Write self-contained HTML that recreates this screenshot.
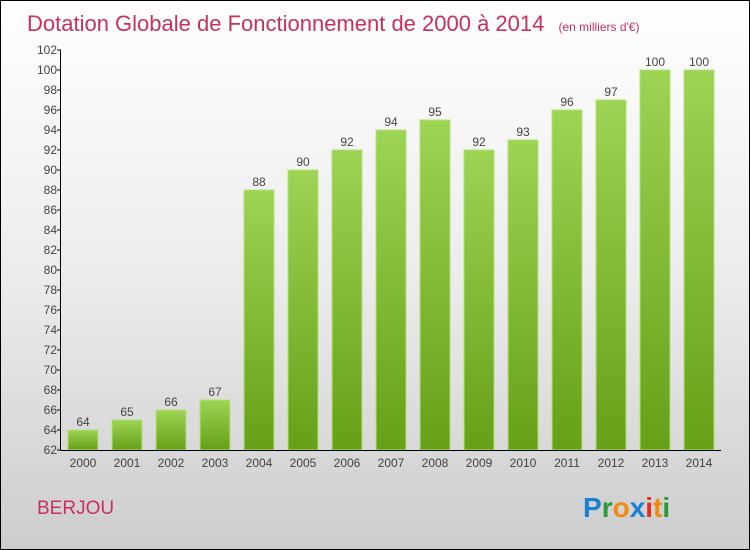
<!DOCTYPE html>
<html><head><meta charset="utf-8"><style>
body{margin:0}
#c{width:748px;height:548px;border:1px solid #000;background:linear-gradient(#fff,#ececec 50%,#cdcdcd);position:relative;font-family:"Liberation Sans",sans-serif;overflow:hidden}
</style></head><body>
<div id="c">
<svg id="s" width="748" height="548" xmlns="http://www.w3.org/2000/svg">
<defs><linearGradient id="g" x1="0" y1="0" x2="0" y2="1"><stop offset="0" stop-color="#9dd454"/><stop offset="1" stop-color="#66a016"/></linearGradient></defs>
<text x="26" y="30" font-size="22" fill="#c8305f">Dotation Globale de Fonctionnement de 2000 à 2014 <tspan font-size="12" dx="8">(en milliers d'€)</tspan></text>
<text x="36" y="513" font-size="19" fill="#c8305f">BERJOU</text>
<g font-size="28" font-weight="bold">
<text x="582" y="516" fill="#1a7fd6">P<tspan fill="#2a9a3a">r</tspan><tspan fill="#f08a10">o</tspan><tspan fill="#1a7fd6">x</tspan><tspan fill="#e03020">i</tspan><tspan fill="#f08a10">t</tspan><tspan fill="#2a9a3a">i</tspan></text></g>
<g id="plot"></g>
</svg></div>
<script>
const years=["2000","2001","2002","2003","2004","2005","2006","2007","2008","2009","2010","2011","2012","2013","2014"];
const values=[64,65,66,67,88,90,92,94,95,92,93,96,97,100,100];
const yTicks=[62,64,66,68,70,72,74,76,78,80,82,84,86,88,90,92,94,96,98,100,102];
const NS="http://www.w3.org/2000/svg";
const p=document.getElementById('plot');
const y=v=>449-(v-62)*10, x=i=>67+i*44;
function mk(t,a,par){const e=document.createElementNS(NS,t);for(const k in a)e.setAttribute(k,a[k]);(par||p).appendChild(e);return e;}
values.forEach((v,i)=>{
 const r=mk('rect',{x:x(i),y:y(v),width:30,height:449-y(v),fill:'url(#g)',stroke:'#b5e07a','stroke-width':1});
 
 
 const t=mk('text',{x:x(i)+15,y:y(v)-4,'font-size':12,fill:'#444','text-anchor':'middle'});t.textContent=v;
 
 
 const l=mk('text',{x:x(i)+15,y:466,'font-size':12,fill:'#444','text-anchor':'middle'});l.textContent=years[i];
 
 
});
yTicks.forEach(v=>{
 mk('line',{x1:56,x2:60,y1:y(v),y2:y(v),stroke:'#000'});
 const t=mk('text',{x:56,y:y(v)+4,'font-size':12,fill:'#444','text-anchor':'end'});t.textContent=v;
 
 
});
const ax=mk('line',{x1:59.5,x2:59.5,y1:y(102),y2:449.5,stroke:'#000'});


const bx=mk('line',{x1:59.5,x2:720,y1:449.5,y2:449.5,stroke:'#000'});


</script>
</body></html>
